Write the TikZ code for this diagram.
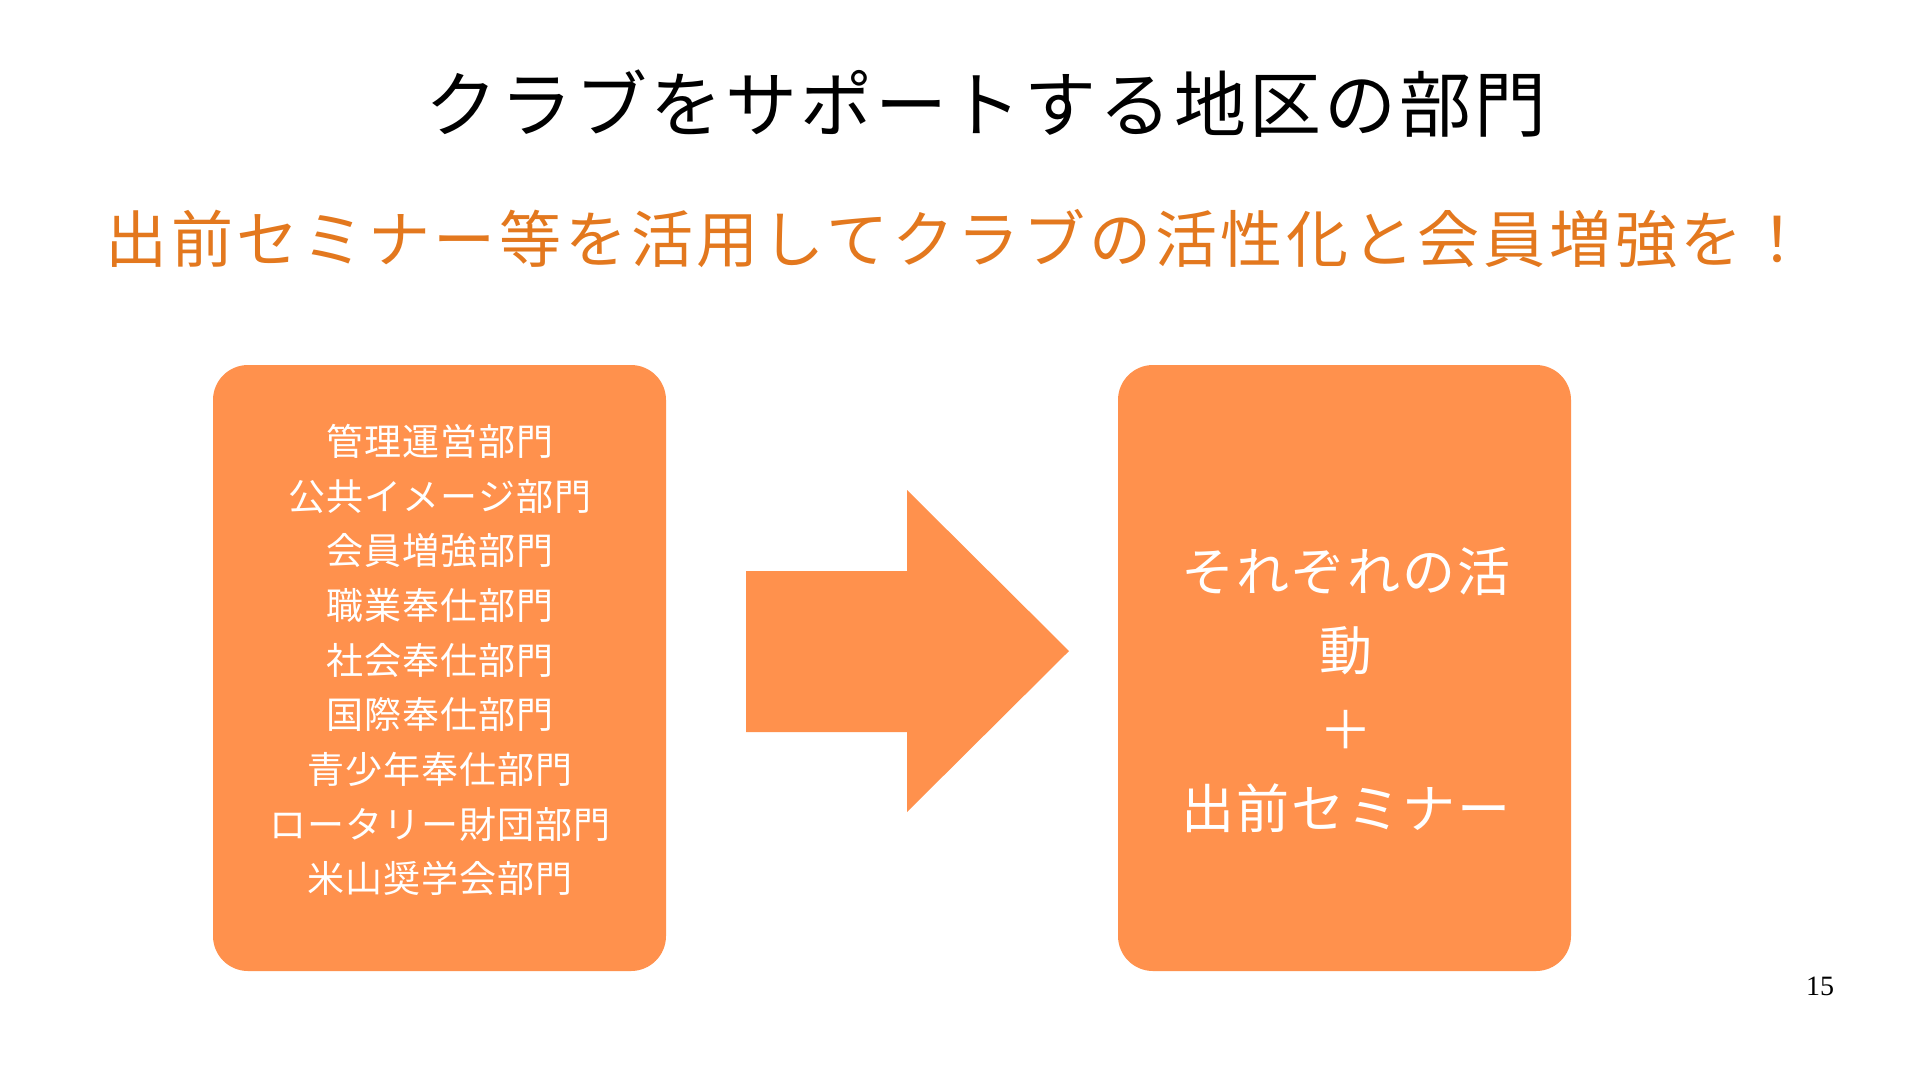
\documentclass[tikz,border=0pt]{standalone}
\usepackage{fontspec}
\setmainfont{Noto Sans CJK JP}
\newfontfamily\jptitle[LetterSpace=4]{Noto Sans CJK JP}
\newfontfamily\jpsub[LetterSpace=6]{Noto Sans CJK JP}
\newfontfamily\jpleft[LetterSpace=3]{Noto Sans CJK JP}
\newfontfamily\jpright[LetterSpace=4]{Noto Sans CJK JP}
\newfontfamily\numfont{Liberation Serif}
\definecolor{boxorange}{HTML}{FF914D}
\definecolor{suborange}{HTML}{E3781E}
\begin{document}
\begin{tikzpicture}[x=1pt,y=-1pt]
\tikzset{
  panel/.style={fill=boxorange, rounded corners=35pt, minimum width=453pt, minimum height=606pt, inner sep=0pt},
  paneltext/.style={text=white, align=center, inner sep=0pt}
}
\useasboundingbox[fill=white] (0,0) rectangle (1920,1080);
\node[font=\jptitle\fontsize{72}{84}\selectfont] (title) at (986,104) {クラブをサポートする地区の部門};
\node[text=suborange, font=\jpsub\fontsize{62}{72}\selectfont] (sub) at (957,239) {出前セミナー等を活用してクラブの活性化と会員増強を！};
\node[panel] (left) at (439.5,668) {};
\node[panel] (right) at (1344.5,668) {};
\node[paneltext, font=\jpleft\fontsize{37}{54.7}\selectfont] (lefttext) at (440,660) {管理運営部門\\公共イメージ部門\\会員増強部門\\職業奉仕部門\\社会奉仕部門\\国際奉仕部門\\青少年奉仕部門\\ロータリー財団部門\\米山奨学会部門};
\node[paneltext, font=\jpright\fontsize{53}{79}\selectfont] (righttext) at (1346,690) {それぞれの活\\動\\＋\\出前セミナー};
\fill[boxorange] (746,571) -- (907,571) -- (907,490) -- (1069,651) -- (907,812) -- (907,732) -- (746,732) -- cycle;
\node[font=\numfont\fontsize{28}{32}\selectfont] (page) at (1820,986) {15};
\end{tikzpicture}
\end{document}
